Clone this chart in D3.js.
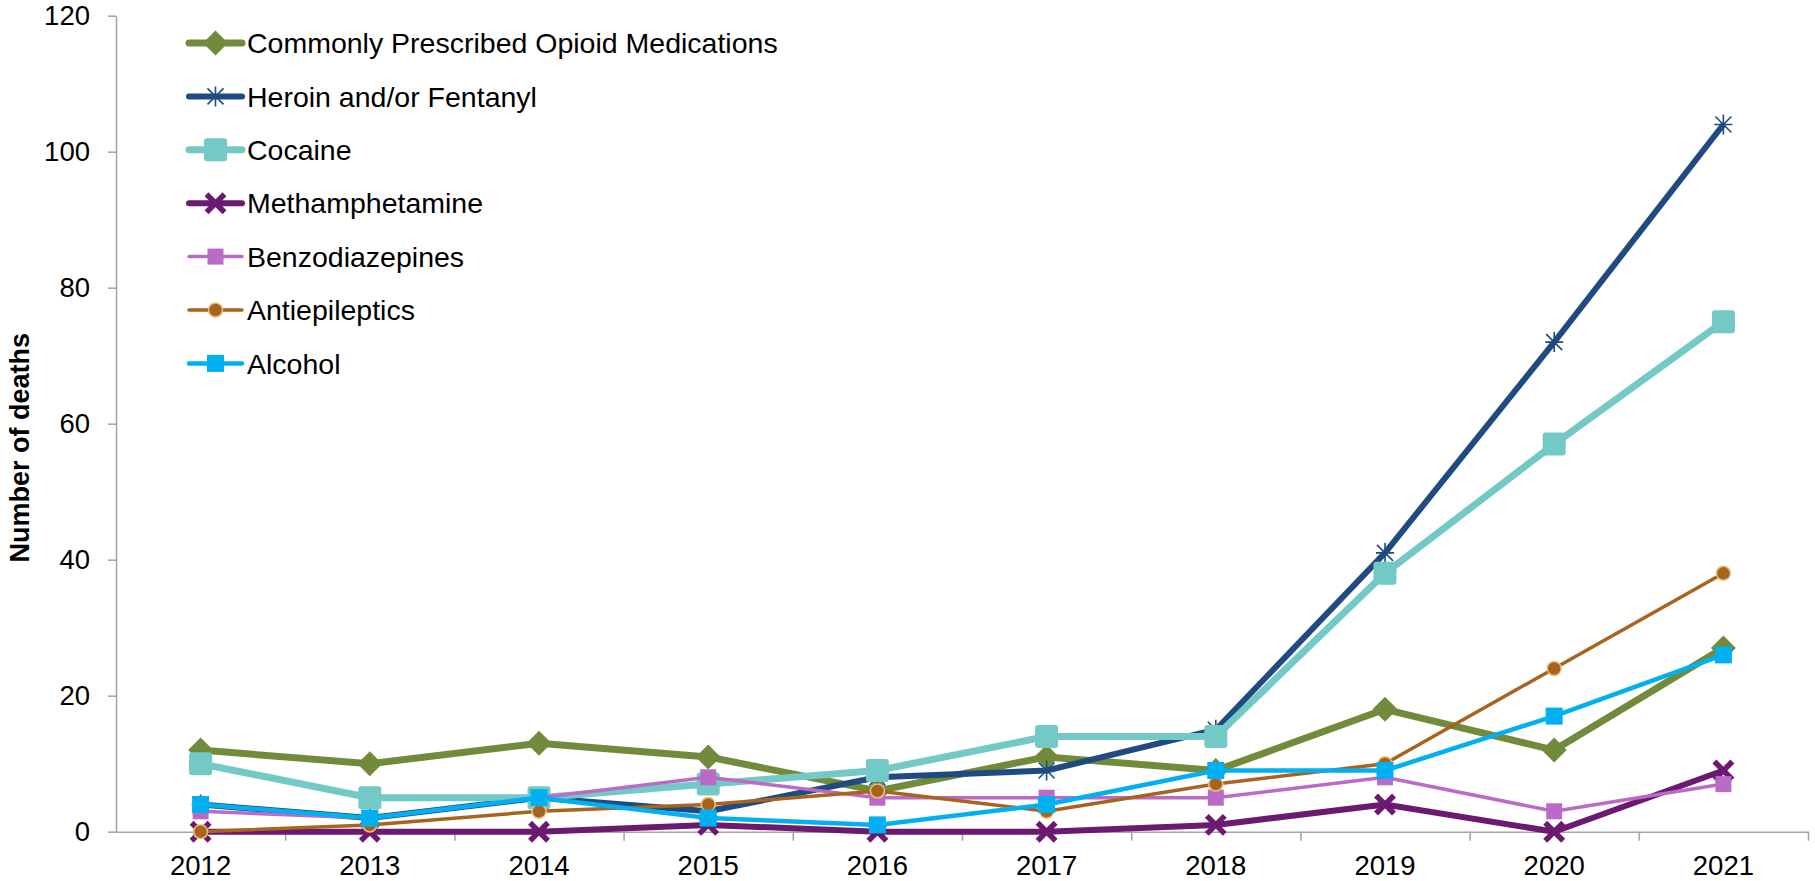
<!DOCTYPE html>
<html>
<head>
<meta charset="utf-8">
<script src="https://cdn.jsdelivr.net/npm/d3@7/dist/d3.min.js"></script>
<style>
  html, body { margin: 0; padding: 0; background: #fff; }
  svg { display: block; }
  text { font-family: "Liberation Sans", Arial, sans-serif; fill: #000; }
</style>
</head>
<body>
<svg id="chart" width="1815" height="881"></svg>
<script>
const years = [2012, 2013, 2014, 2015, 2016, 2017, 2018, 2019, 2020, 2021];
const yTicks = [0, 20, 40, 60, 80, 100, 120];

const seriesNames = [
  "Commonly Prescribed Opioid Medications",
  "Heroin and/or Fentanyl",
  "Cocaine",
  "Methamphetamine",
  "Benzodiazepines",
  "Antiepileptics",
  "Alcohol"
];
const opioidMeds      = [12, 10, 13, 11, 6, 11, 9, 18, 12, 27];
const heroinFentanyl  = [4, 2, 5, 3, 8, 9, 15, 41, 72, 104];
const cocaine         = [10, 5, 5, 7, 9, 14, 14, 38, 57, 75];
const methamphetamine = [0, 0, 0, 1, 0, 0, 1, 4, 0, 9];
const benzodiazepines = [3, 2, 5, 8, 5, 5, 5, 8, 3, 7];
const antiepileptics  = [0, 1, 3, 4, 6, 3, 7, 10, 24, 38];
const alcohol         = [4, 2, 5, 2, 1, 4, 9, 9, 17, 26];

const seriesValues = [opioidMeds, heroinFentanyl, cocaine, methamphetamine, benzodiazepines, antiepileptics, alcohol];

const styles = [
  { color: "#718B3A", width: 7,   marker: "diamond" },
  { color: "#1F4B80", width: 6,   marker: "star" },
  { color: "#72C9C5", width: 7,   marker: "bigsquare" },
  { color: "#6B1A70", width: 6,   marker: "x" },
  { color: "#BA6BC6", width: 3.5, marker: "square" },
  { color: "#A8641F", width: 3.5, marker: "circle" },
  { color: "#00B0F0", width: 4.5, marker: "square2" }
];

const svg = d3.select("#chart");
const plotLeft = 116, plotRight = 1808, plotTop = 15.7, plotBottom = 831.7;

const x = d3.scaleBand().domain(years).range([plotLeft, plotRight]).padding(0);
const xc = d => x(d) + x.bandwidth() / 2;
const y = d3.scaleLinear().domain([0, 120]).range([plotBottom, plotTop]);

// Y axis
const yAxis = svg.append("g").attr("transform", `translate(${plotLeft},0)`)
  .call(d3.axisLeft(y).tickValues(yTicks).tickSize(8).tickPadding(18).tickSizeOuter(0));
yAxis.select(".domain").attr("stroke", "#A6A6A6").attr("stroke-width", 1.6);
yAxis.selectAll(".tick line").attr("stroke", "#A6A6A6").attr("stroke-width", 1.6);
yAxis.selectAll(".tick text").style("font-size", "27.5px").attr("font-family", "Liberation Sans, Arial, sans-serif");

// X axis: boundary ticks
const xb = d3.scaleLinear().domain([0, years.length]).range([plotLeft, plotRight]);
const xAxisB = svg.append("g").attr("transform", `translate(0,${plotBottom})`)
  .call(d3.axisBottom(xb).tickValues(d3.range(1, years.length + 1)).tickSize(9).tickFormat("").tickSizeOuter(0));
xAxisB.select(".domain").attr("stroke", "#A6A6A6").attr("stroke-width", 1.6);
xAxisB.selectAll(".tick line").attr("stroke", "#A6A6A6").attr("stroke-width", 1.6);

// X axis labels
const xAxisL = svg.append("g").attr("transform", `translate(0,${plotBottom})`)
  .call(d3.axisBottom(x).tickSize(0).tickPadding(24));
xAxisL.select(".domain").remove();
xAxisL.selectAll(".tick text").style("font-size", "27.5px").attr("font-family", "Liberation Sans, Arial, sans-serif");

// Y axis title
svg.append("text")
  .attr("transform", `translate(29,${(plotTop + plotBottom) / 2 + 24}) rotate(-90)`)
  .attr("text-anchor", "middle")
  .style("font-size", "27px")
  .style("font-weight", "bold")
  .text("Number of deaths");

function drawMarker(g, type, color) {
  switch (type) {
    case "diamond":
      g.append("path").attr("d", "M0,-12.5L12.5,0L0,12.5L-12.5,0Z").attr("fill", color);
      break;
    case "star":
      g.append("path").attr("d", "M0,-10L0,10M-8,-8L8,8M-8,8L8,-8M-9,0L9,0")
        .attr("stroke", color).attr("stroke-width", 1.6).attr("fill", "none");
      break;
    case "bigsquare":
      g.append("rect").attr("x", -11.5).attr("y", -11.5).attr("width", 23).attr("height", 23)
        .attr("rx", 3).attr("fill", color);
      break;
    case "x":
      g.append("path").attr("d", "M-9,-9L9,9M-9,9L9,-9")
        .attr("stroke", color).attr("stroke-width", 5.5).attr("fill", "none");
      break;
    case "square":
      g.append("rect").attr("x", -8).attr("y", -8).attr("width", 16).attr("height", 16).attr("fill", color);
      break;
    case "square2":
      g.append("rect").attr("x", -8.5).attr("y", -8.5).attr("width", 17).attr("height", 17).attr("fill", color);
      break;
    case "circle":
      g.append("circle").attr("r", 7).attr("fill", color).attr("stroke", "#E9C27B").attr("stroke-width", 1.5);
      break;
  }
}

const line = d3.line().x((d, i) => xc(years[i])).y(d => y(d));

seriesValues.forEach((vals, si) => {
  const st = styles[si];
  const g = svg.append("g");
  g.append("path").datum(vals).attr("d", line)
    .attr("fill", "none").attr("stroke", st.color).attr("stroke-width", st.width)
    .attr("stroke-linejoin", "round");
  vals.forEach((v, i) => {
    const mg = g.append("g").attr("transform", `translate(${xc(years[i])},${y(v)})`);
    drawMarker(mg, st.marker, st.color);
  });
});

// Legend
const legendY0 = 43, legendDy = 53.4;
seriesNames.forEach((name, si) => {
  const st = styles[si];
  const ly = legendY0 + si * legendDy;
  const g = svg.append("g");
  g.append("line").attr("x1", 189).attr("x2", 242).attr("y1", ly).attr("y2", ly)
    .attr("stroke", st.color).attr("stroke-width", st.width).attr("stroke-linecap", "round");
  const mg = g.append("g").attr("transform", `translate(215.5,${ly})`);
  drawMarker(mg, st.marker, st.color);
  g.append("text").attr("x", 247).attr("y", ly).attr("dy", "0.36em")
    .style("font-size", "28.5px").text(name);
});
</script>
</body>
</html>
